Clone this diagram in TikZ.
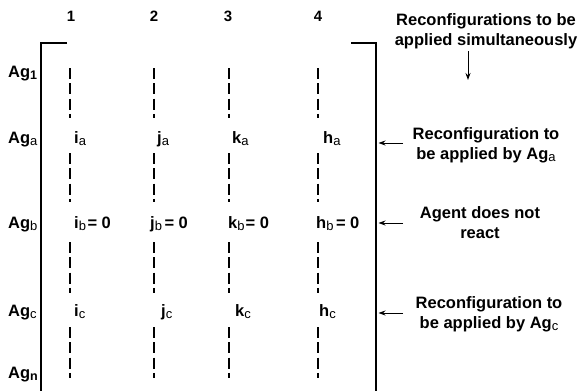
\documentclass[tikz,border=0pt]{standalone}
\usepackage{fontspec}
\setmainfont{Liberation Sans}
\usetikzlibrary{arrows.meta}
\newcommand{\sbr}[1]{\raisebox{-2pt}{\fontsize{13}{13}\selectfont\mdseries #1}}
\newcommand{\sbb}[1]{\raisebox{-2.5pt}{\fontsize{12.5}{12.5}\selectfont\bfseries #1}}
\newcommand{\twol}[2]{\begin{tabular}[t]{@{}c@{}}#1\\#2\end{tabular}}
\begin{document}
\begin{tikzpicture}[x=1pt,y=-1pt,
  every node/.style={inner sep=0pt, font=\fontsize{16.5}{20}\selectfont\bfseries},
  colnum/.style={anchor=base, font=\fontsize{15}{18}\selectfont\bfseries},
  rowlab/.style={anchor=base west},
  cell/.style={anchor=base west},
  ann/.style={anchor=base},
  brack/.style={line width=2pt},
  dashcol/.style={line width=2.6pt, dash pattern=on 11pt off 4.3pt},
  arr/.style={line width=0.9pt, -{Stealth[length=7pt,width=5pt]}}]
\useasboundingbox (0,0) rectangle (582,391);

% column numbers
\node[colnum] (n1) at (71,21.7) {1};
\node[colnum] (n2) at (154,21.7) {2};
\node[colnum] (n3) at (228,21.7) {3};
\node[colnum] (n4) at (318,21.7) {4};

% bracket
\coordinate (bl1) at (67,43.3);
\coordinate (bl2) at (41,43.3);
\coordinate (bl3) at (41,392);
\coordinate (br1) at (351,43.3);
\coordinate (br2) at (376,43.3);
\coordinate (br3) at (376,392);
\draw[brack] (bl1) -- (bl2) -- (bl3);
\draw[brack] (br1) -- (br2) -- (br3);

% row labels
\node[rowlab] (ag1) at (8,77) {Ag\sbb{1}};
\node[rowlab] (aga) at (8,143.5) {Ag\sbr{a}};
\node[rowlab] (agb) at (8,228.5) {Ag\sbr{b}};
\node[rowlab] (agc) at (8,316.5) {Ag\sbr{c}};
\node[rowlab] (agn) at (8,378) {Ag\sbb{n}};

% dashed column segments
\foreach \cx [count=\ci] in {70,154,229,318}{
  \foreach \ya/\yb [count=\gi] in {68/118,153/202,242/293,327/378}{
    \coordinate (d\ci t\gi) at (\cx,\ya);
    \coordinate (d\ci b\gi) at (\cx,\yb);
    \draw[dashcol] (d\ci t\gi) -- (d\ci b\gi);
  }
}

% cells
\node[cell] (ia) at (74,143.5) {i\sbr{a}};
\node[cell] (ja) at (157,143.5) {j\sbr{a}};
\node[cell] (ka) at (232,143.5) {k\sbr{a}};
\node[cell] (ha) at (323,143.5) {h\sbr{a}};
\node[cell] (ib) at (74,228.5) {i\sbr{b}\kern1.5pt= 0};
\node[cell] (jb) at (150,228.5) {j\sbr{b}\kern2.5pt= 0};
\node[cell] (kb) at (228,228.5) {k\sbr{b}\kern1pt= 0};
\node[cell] (hb) at (316,228.5) {h\sbr{b}\kern2.5pt= 0};
\node[cell] (ic) at (74,316.5) {i\sbr{c}};
\node[cell] (jc) at (161,316.5) {j\sbr{c}};
\node[cell] (kc) at (235,316.5) {k\sbr{c}};
\node[cell] (hc) at (319,316.5) {h\sbr{c}};

% annotations
\node[ann] (sim) at (486,25) {\twol{Reconfigurations to be}{applied simultaneously}};
\node[ann] (anna) at (486,139.3) {\twol{Reconfiguration to}{be applied by Ag\sbr{a}}};
\node[ann] (annb) at (480,218) {\twol{Agent does not}{react}};
\node[ann] (annc) at (489,308) {\twol{Reconfiguration to}{be applied by Ag\sbr{c}}};

% arrows
\coordinate (st) at (468,51);
\coordinate (sh) at (468,80);
\draw[arr] (st) -- (sh);
\coordinate (at) at (403,143);
\coordinate (ah) at (378.5,143);
\draw[arr] (at) -- (ah);
\coordinate (bt) at (403,223);
\coordinate (bh) at (378.5,223);
\draw[arr] (bt) -- (bh);
\coordinate (ct) at (403,313);
\coordinate (ch) at (378.5,313);
\draw[arr] (ct) -- (ch);
\end{tikzpicture}
\end{document}
